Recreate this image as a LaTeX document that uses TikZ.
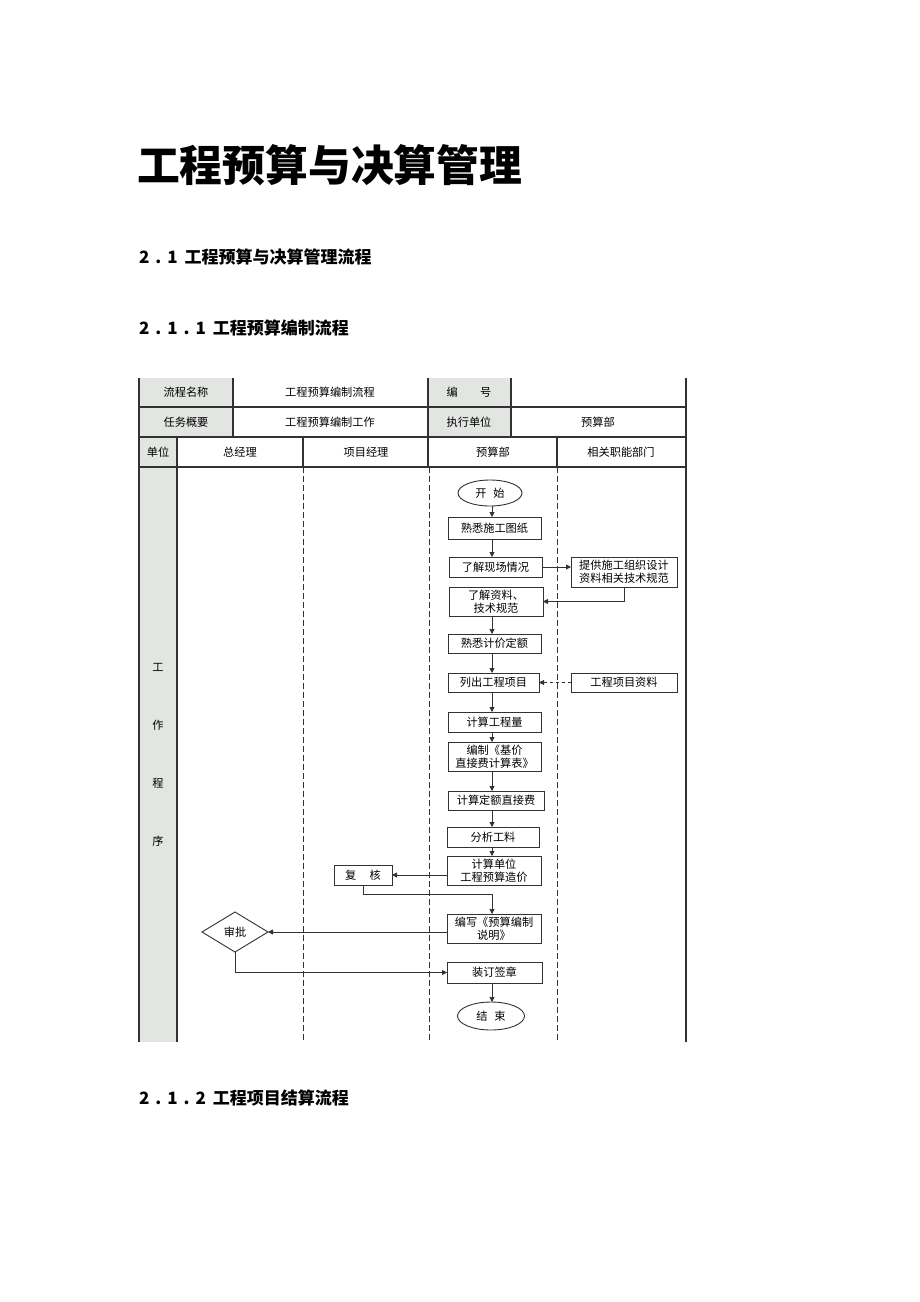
\documentclass[tikz,border=0pt]{standalone}
\usepackage{fontspec}
\setmainfont{Noto Sans CJK SC}
\usetikzlibrary{arrows.meta,shapes.geometric}
\definecolor{cellgray}{RGB}{226,229,226}
\definecolor{ln}{RGB}{50,50,50}
\begin{document}
\begin{tikzpicture}[x=1pt,y=-1pt,
  every node/.style={inner sep=0pt, outer sep=0pt, text=black},
  txt/.style={font=\fontsize{11.2pt}{13pt}\selectfont, align=center},
  box/.style={draw=ln, line width=0.9pt, fill=white, font=\fontsize{11.2pt}{13pt}\selectfont, align=center},
  oval/.style={box, ellipse},
  dia/.style={box, diamond, aspect=1.65},
  arr/.style={draw=ln, line width=0.9pt, -{Triangle[length=5pt,width=5pt]}},
  dotarr/.style={arr, dash pattern=on 3pt off 3pt},
  tline/.style={draw=ln, line width=1.2pt},
  lane/.style={draw=ln, line width=0.9pt, dash pattern=on 6pt off 3pt}
]
\useasboundingbox (0,0) rectangle (920,1302);
\fill[white] (0,0) rectangle (920,1302);

% headings
\node[anchor=west, font=\fontsize{42.8pt}{43pt}\selectfont\bfseries] (title) at (137,165) {工程预算与决算管理};
\node[anchor=west, font=\fontsize{17pt}{17pt}\selectfont\bfseries] (h1) at (139,257) {2\hspace{6pt}.\hspace{6pt}1\hspace{7pt}工程预算与决算管理流程};
\node[anchor=west, font=\fontsize{17pt}{17pt}\selectfont\bfseries] (h2) at (139,328) {2\hspace{6pt}.\hspace{6pt}1\hspace{6pt}.\hspace{6pt}1\hspace{7pt}工程预算编制流程};
\node[anchor=west, font=\fontsize{17pt}{17pt}\selectfont\bfseries] (h3) at (139,1098) {2\hspace{6pt}.\hspace{6pt}1\hspace{6pt}.\hspace{6pt}2\hspace{7pt}工程项目结算流程};

% table fills
\fill[cellgray] (139,378) rectangle (233,437);
\fill[cellgray] (428,378) rectangle (511,437);
\fill[cellgray] (139,437) rectangle (177,1042);

% table lines
\draw[tline] (139,378) -- (139,1042);
\draw[tline] (686,378) -- (686,1042);
\draw[tline] (139,407) -- (686,407);
\draw[tline] (139,437) -- (686,437);
\draw[tline] (139,467) -- (686,467);
\draw[tline] (233,378) -- (233,437);
\draw[tline] (428,378) -- (428,467);
\draw[tline] (511,378) -- (511,437);
\draw[tline] (177,437) -- (177,1042);
\draw[tline] (303,437) -- (303,467);
\draw[tline] (557,437) -- (557,467);
\draw[lane] (303,467) -- (303,1042);
\draw[lane] (429,467) -- (429,1042);
\draw[lane] (557,467) -- (557,1042);

% table texts
\node[txt] (c1) at (186,392) {流程名称};
\node[txt] (c2) at (330,392) {工程预算编制流程};
\node[txt] (c3) at (469,392) {编\hspace{2em}号};
\node[txt] (c4) at (186,422) {任务概要};
\node[txt] (c5) at (330,422) {工程预算编制工作};
\node[txt] (c6) at (469,422) {执行单位};
\node[txt] (c7) at (598,422) {预算部};
\node[txt] (c8) at (158,452) {单位};
\node[txt] (c9) at (240,452) {总经理};
\node[txt] (c10) at (366,452) {项目经理};
\node[txt] (c11) at (493,452) {预算部};
\node[txt] (c12) at (621,452) {相关职能部门};
\node[txt] (w1) at (158,667) {工};
\node[txt] (w2) at (158,725) {作};
\node[txt] (w3) at (158,783) {程};
\node[txt] (w4) at (158,841) {序};

% flow nodes
\coordinate (colx) at (492,0);
\node[oval, minimum width=64pt, minimum height=26pt] (start) at (490,493) {开\hspace{0.6em}始};
\node[box, minimum width=93pt, minimum height=22pt] (b1) at (494.5,528) {熟悉施工图纸};
\node[box, minimum width=93pt, minimum height=20pt] (b2) at (495.5,567) {了解现场情况};
\node[box, minimum width=106pt, minimum height=30pt] (r1) at (624,572) {提供施工组织设计\\资料相关技术规范};
\node[box, minimum width=94pt, minimum height=29pt] (b3) at (496,601.5) {了解资料、\\技术规范};
\node[box, minimum width=93pt, minimum height=19pt] (b4) at (494.5,643.5) {熟悉计价定额};
\node[box, minimum width=91pt, minimum height=19pt] (b5) at (493.5,682.5) {列出工程项目};
\node[box, minimum width=106pt, minimum height=19pt] (r2) at (624,682.5) {工程项目资料};
\node[box, minimum width=93pt, minimum height=20pt] (b6) at (494.5,722) {计算工程量};
\node[box, minimum width=93pt, minimum height=29pt] (b7) at (494.5,756.5) {编制《基价\\直接费计算表》};
\node[box, minimum width=96pt, minimum height=19pt] (b8) at (496,800.5) {计算定额直接费};
\node[box, minimum width=92pt, minimum height=20pt] (b9) at (493,837) {分析工料};
\node[box, minimum width=94pt, minimum height=29pt] (b10) at (494,870.5) {计算单位\\工程预算造价};
\node[box, minimum width=58pt, minimum height=20pt] (fh) at (363,875) {复\hspace{1.2em}核};
\node[box, minimum width=94pt, minimum height=29pt] (b11) at (494,928.5) {编写《预算编制\\说明》};
\node[dia, minimum width=66pt, minimum height=40pt] (sp) at (235,932) {审批};
\node[box, minimum width=95pt, minimum height=21pt] (b12) at (494.5,972.5) {装订签章};
\node[oval, minimum width=67pt, minimum height=28pt] (end) at (491,1016) {结\hspace{0.6em}束};

% connectors
\draw[arr] (start.south -| colx) -- (b1.north -| colx);
\draw[arr] (b1.south -| colx) -- (b2.north -| colx);
\draw[arr] (b2.east) -- (r1.west |- b2.east);
\draw[arr] (r1.south) |- (b3.east);
\draw[arr] (b3.south -| colx) -- (b4.north -| colx);
\draw[arr] (b4.south -| colx) -- (b5.north -| colx);
\draw[dotarr] (r2.west) -- (b5.east);
\draw[arr] (b5.south -| colx) -- (b6.north -| colx);
\draw[arr] (b6.south -| colx) -- (b7.north -| colx);
\draw[arr] (b7.south -| colx) -- (b8.north -| colx);
\draw[arr] (b8.south -| colx) -- (b9.north -| colx);
\draw[arr] (b9.south -| colx) -- (b10.north -| colx);
\draw[arr] (b10.west |- fh.east) -- (fh.east);
\coordinate (k1) at (492,894);
\draw[arr] (fh.south) |- (k1) -- (b11.north -| colx);
\draw[arr] (b11.west |- sp.east) -- (sp.east);
\draw[arr] (sp.south) |- (b12.west);
\draw[arr] (b12.south -| colx) -- (end.north -| colx);
\end{tikzpicture}
\end{document}
